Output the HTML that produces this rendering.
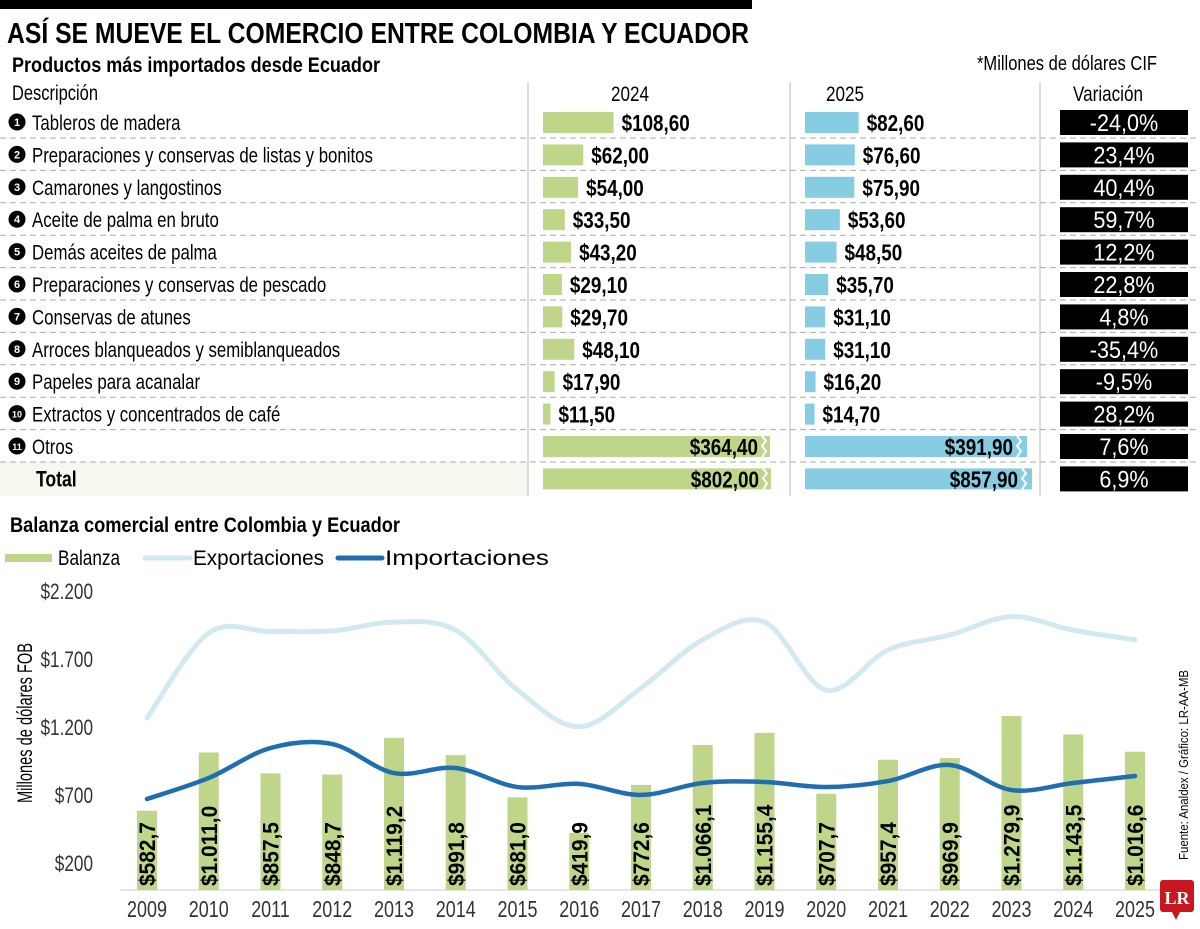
<!DOCTYPE html>
<html><head><meta charset="utf-8"><style>
html,body{margin:0;padding:0;background:#fff}
svg{display:block;font-family:"Liberation Sans Narrow","Liberation Sans",sans-serif}
</style></head><body>
<svg id="root" width="1200" height="929" viewBox="0 0 1200 929">
<rect x="0" y="0" width="752" height="9" fill="#000"/>
<text x="7" y="43" font-size="29" font-weight="bold" textLength="742" lengthAdjust="spacingAndGlyphs">ASÍ SE MUEVE EL COMERCIO ENTRE COLOMBIA Y ECUADOR</text>
<text x="12" y="72" font-size="21" font-weight="bold" textLength="368" lengthAdjust="spacingAndGlyphs">Productos más importados desde Ecuador</text>
<text x="1157" y="70" font-size="20" text-anchor="end" textLength="180" lengthAdjust="spacingAndGlyphs">*Millones de dólares CIF</text>
<rect x="0" y="462" width="528" height="34" fill="#f5f8ee"/>
<text x="12" y="100" font-size="21" textLength="86" lengthAdjust="spacingAndGlyphs">Descripción</text>
<text x="630" y="101" font-size="21" text-anchor="middle" textLength="38" lengthAdjust="spacingAndGlyphs">2024</text>
<text x="845" y="101" font-size="21" text-anchor="middle" textLength="38" lengthAdjust="spacingAndGlyphs">2025</text>
<text x="1108" y="101" font-size="21" text-anchor="middle" textLength="70" lengthAdjust="spacingAndGlyphs">Variación</text>
<line x1="528" y1="82" x2="528" y2="496" stroke="#bbb"/>
<line x1="790" y1="82" x2="790" y2="496" stroke="#bbb"/>
<line x1="1040" y1="82" x2="1040" y2="496" stroke="#bbb"/>
<g id="table"></g>
<text x="10" y="532" font-size="21" font-weight="bold" textLength="390" lengthAdjust="spacingAndGlyphs">Balanza comercial entre Colombia y Ecuador</text>
<rect x="5" y="554" width="47" height="8" fill="#bfd68a"/>
<text x="58" y="565" font-size="21" textLength="62" lengthAdjust="spacingAndGlyphs">Balanza</text>
<line x1="145" y1="558" x2="190" y2="558" stroke="#d3e9f2" stroke-width="5" stroke-linecap="round"/>
<text x="193" y="565" font-size="21" textLength="131" lengthAdjust="spacingAndGlyphs">Exportaciones</text>
<line x1="338" y1="558" x2="382" y2="558" stroke="#1f6eb0" stroke-width="5" stroke-linecap="round"/>
<text x="385" y="565" font-size="21" textLength="164" lengthAdjust="spacingAndGlyphs">Importaciones</text>
<text transform="translate(32,723) rotate(-90)" font-size="21" text-anchor="middle" textLength="160" lengthAdjust="spacingAndGlyphs">Millones de dólares FOB</text>
<text transform="translate(1188,765) rotate(-90)" font-size="13" text-anchor="middle" textLength="190" lengthAdjust="spacingAndGlyphs">Fuente: Analdex / Gráfico: LR-AA-MB</text>
<g>
<rect x="1160" y="880" width="34" height="32" rx="3" fill="#c8171e"/>
<path d="M1172 912 L1176 920 L1180 912 Z" fill="#c8171e"/>
<text x="1177" y="904" font-size="18" font-weight="bold" fill="#fff" text-anchor="middle" font-family="Liberation Serif,serif" data-k="1">LR</text>
</g>
<g id="chart"></g>
</svg>
<script>
const NS="http://www.w3.org/2000/svg";
function mk(tag,attrs,parent,txt){const e=document.createElementNS(NS,tag);for(const k in attrs)e.setAttribute(k,attrs[k]);if(txt!==undefined)e.textContent=txt;parent.appendChild(e);return e;}

/* ---- table data ---- */
const products=["Tableros de madera","Preparaciones y conservas de listas y bonitos","Camarones y langostinos","Aceite de palma en bruto","Demás aceites de palma","Preparaciones y conservas de pescado","Conservas de atunes","Arroces blanqueados y semiblanqueados","Papeles para acanalar","Extractos y concentrados de café","Otros","Total"];
const v2024=[108.6,62.0,54.0,33.5,43.2,29.1,29.7,48.1,17.9,11.5,364.4,802.0];
const v2025=[82.6,76.6,75.9,53.6,48.5,35.7,31.1,31.1,16.2,14.7,391.9,857.9];
const variation=["-24,0%","23,4%","40,4%","59,7%","12,2%","22,8%","4,8%","-35,4%","-9,5%","28,2%","7,6%","6,9%"];
const fmt=v=>"$"+v.toFixed(2).replace(".",",");
const tbl=document.getElementById("table");
const rowY=i=>122+i*32.4;
const barScale=0.65;
products.forEach((p,i)=>{
  const cy=rowY(i);
  const g=mk("g",{},tbl);
  
  
  if(i<11){
    const c=mk("circle",{cx:17,cy:cy,r:8.5,fill:"#000"},g);
    
    
    mk("text",{x:17,y:cy+4,"font-size":i>=9?9:11,"font-weight":"bold",fill:"#fff","text-anchor":"middle","data-k":"1"},g,String(i+1));
  }
  const lt=mk("text",{x:i<11?32:36,y:cy+8,"font-size":i<11?21:22,"font-weight":i<11?"normal":"bold","data-k":"0.8"},g,p);
  
  
  if(i<11){
    const sep=mk("line",{x1:0,y1:cy+16,x2:1200,y2:cy+16,stroke:"#aaa","stroke-dasharray":"6,4"},g);
    
    
  }
  const big=i>=10;
  const w1=big?(i==10?227:228):v2024[i]*barScale;
  const b1=mk("rect",{x:543,y:cy-10,width:w1,height:21,fill:"#bfd68a"},g);
  
  
  const w2=big?(i==10?222:227):v2025[i]*barScale;
  const b2=mk("rect",{x:805,y:cy-10,width:w2,height:21,fill:"#86cde3"},g);
  
  
  if(big){
    mk("path",{d:`M${543+w1-8} ${cy-10} l4 5 l-4 5 l4 5 l-4 6`,stroke:"#fff","stroke-width":2,fill:"none"},g);
    mk("path",{d:`M${805+w2-10} ${cy-10} l4 5 l-4 5 l4 5 l-4 6`,stroke:"#fff","stroke-width":2,fill:"none"},g);
  }
  const t1=mk("text",big?{x:543+w1-12,y:cy+9,"text-anchor":"end"}:{x:543+w1+8,y:cy+9},g,fmt(v2024[i]));
  t1.setAttribute("font-size","23");t1.setAttribute("font-weight","bold");t1.setAttribute("data-k","0.82");
  
  
  const t2=mk("text",big?{x:805+w2-14,y:cy+9,"text-anchor":"end"}:{x:805+w2+8,y:cy+9},g,fmt(v2025[i]));
  t2.setAttribute("font-size","23");t2.setAttribute("font-weight","bold");t2.setAttribute("data-k","0.82");
  
  
  const vb=mk("rect",{x:1060,y:cy-12,width:128,height:25,fill:"#000"},g);
  
  
  const vt=mk("text",{x:1124,y:cy+9,"font-size":24,fill:"#fff","text-anchor":"middle","data-k":"0.9"},g,variation[i]);
  
  
});

/* ---- chart data ---- */
const years=["2009","2010","2011","2012","2013","2014","2015","2016","2017","2018","2019","2020","2021","2022","2023","2024","2025"];
const balanza=[582.7,1011.0,857.5,848.7,1119.2,991.8,681.0,419.9,772.6,1066.1,1155.4,707.7,957.4,969.9,1279.9,1143.5,1016.6];
const balanzaLabels=["$582,7","$1.011,0","$857,5","$848,7","$1.119,2","$991,8","$681,0","$419,9","$772,6","$1.066,1","$1.155,4","$707,7","$957,4","$969,9","$1.279,9","$1.143,5","$1.016,6"];
const exportaciones=[1265,1890,1900,1905,1970,1910,1470,1200,1485,1840,1970,1470,1765,1875,2010,1910,1840];
const importaciones=[669,824,1044,1073,860,897,757,780,699,787,794,757,801,919,735,787,838];
const yTicks=[200,700,1200,1700,2200];
const yTickLabels=["$200","$700","$1.200","$1.700","$2.200"];

const ch=document.getElementById("chart");
const X=i=>147+i*61.75;
const Y=v=>890-v*0.136;
yTicks.forEach((t,k)=>{
  const e=mk("text",{x:93,y:Y(t)+8,"font-size":22,fill:"#333","text-anchor":"end","data-k":"0.78"},ch,yTickLabels[k]);
  
  
});
const ax=mk("line",{x1:120,y1:890,x2:1160,y2:890,stroke:"#ccc","stroke-width":1},ch);


years.forEach((y,i)=>{
  const b=mk("rect",{x:X(i)-10,y:Y(balanza[i]),width:20,height:890-Y(balanza[i]),fill:"#bfd68a"},ch);
  
  
  const lt=mk("text",{transform:`translate(${X(i)+8},886) rotate(-90)`,"font-size":22,"font-weight":"bold","data-k":"0.95"},ch,balanzaLabels[i]);
  
  
  const yt=mk("text",{x:X(i),y:917,"font-size":23,fill:"#333","text-anchor":"middle","data-k":"0.78"},ch,y);
  
  
});
function smooth(vals){
  const pts=vals.map((v,i)=>[X(i),Y(v)]);
  let d=`M${pts[0][0]} ${pts[0][1]}`;
  for(let i=0;i<pts.length-1;i++){
    const p0=pts[Math.max(0,i-1)],p1=pts[i],p2=pts[i+1],p3=pts[Math.min(pts.length-1,i+2)];
    const c1=[p1[0]+(p2[0]-p0[0])/6,p1[1]+(p2[1]-p0[1])/6];
    const c2=[p2[0]-(p3[0]-p1[0])/6,p2[1]-(p3[1]-p1[1])/6];
    d+=` C${c1[0]} ${c1[1]} ${c2[0]} ${c2[1]} ${p2[0]} ${p2[1]}`;
  }
  return d;
}
const le=mk("path",{d:smooth(exportaciones),stroke:"#d3e9f2","stroke-width":5,fill:"none","stroke-linecap":"round"},ch);


const li=mk("path",{d:smooth(importaciones),stroke:"#1f6eb0","stroke-width":4.5,fill:"none","stroke-linecap":"round"},ch);



/* condense text to mimic narrow font */
document.querySelectorAll("text").forEach(t=>{
  if(t.hasAttribute("textLength"))return;
  const k=parseFloat(t.getAttribute("data-k")||"0.8");
  if(k>=1)return;
  const L=t.getComputedTextLength();
  if(L>0){t.setAttribute("textLength",(L*k).toFixed(1));t.setAttribute("lengthAdjust","spacingAndGlyphs");}
});
</script>
</body></html>
